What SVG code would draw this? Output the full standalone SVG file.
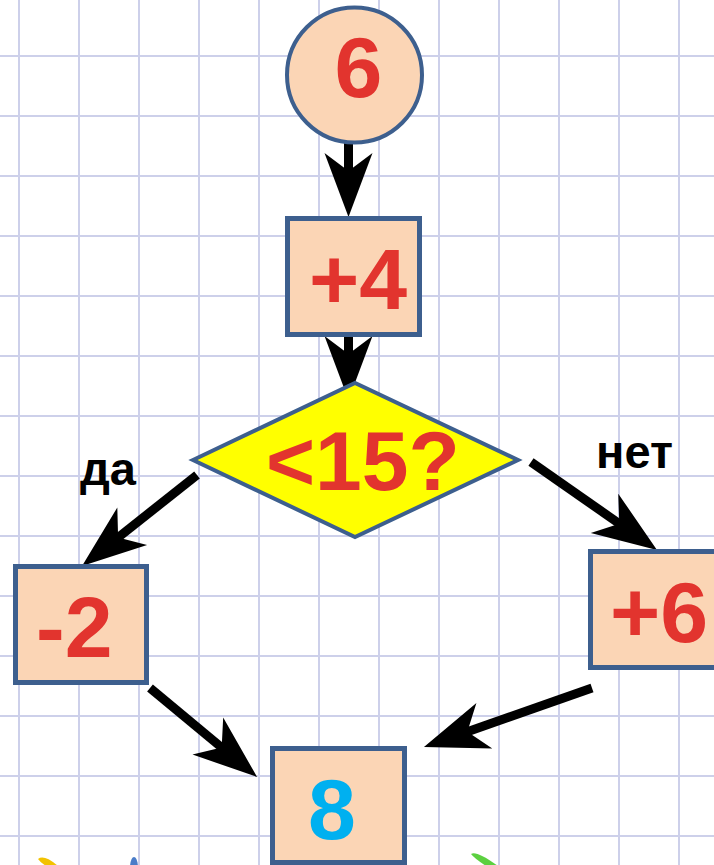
<svg xmlns="http://www.w3.org/2000/svg" width="714" height="865" viewBox="0 0 714 865">
<defs>
<style>
.grid line{stroke:#cdd0ea;stroke-width:2}
.box{fill:#fbd5b5;stroke:#3d5f8e;stroke-width:5}
.num{font-family:"Liberation Sans",Arial,sans-serif;font-weight:bold;font-size:86px;fill:#e2342e}
.lbl{font-family:"Liberation Sans",Arial,sans-serif;font-weight:bold;font-size:47px;fill:#000}
.conn line{stroke:#000;stroke-width:9;marker-end:url(#ah)}
</style>
<marker id="ah" markerUnits="userSpaceOnUse" viewBox="-30 -30 80 60" refX="0" refY="0" markerWidth="80" markerHeight="60" orient="auto">
<path d="M40,0 L-24,-24 L-6,0 L-24,24 Z" fill="#000"/>
</marker>
</defs>
<rect width="714" height="865" fill="#fff"/>
<g class="grid">
<line x1="19" y1="0" x2="19" y2="865"/><line x1="79" y1="0" x2="79" y2="865"/><line x1="139" y1="0" x2="139" y2="865"/><line x1="199" y1="0" x2="199" y2="865"/><line x1="259" y1="0" x2="259" y2="865"/><line x1="319" y1="0" x2="319" y2="865"/><line x1="379" y1="0" x2="379" y2="865"/><line x1="439" y1="0" x2="439" y2="865"/><line x1="499" y1="0" x2="499" y2="865"/><line x1="559" y1="0" x2="559" y2="865"/><line x1="619" y1="0" x2="619" y2="865"/><line x1="679" y1="0" x2="679" y2="865"/>
<line x1="0" y1="56" x2="714" y2="56"/><line x1="0" y1="116" x2="714" y2="116"/><line x1="0" y1="176" x2="714" y2="176"/><line x1="0" y1="236" x2="714" y2="236"/><line x1="0" y1="296" x2="714" y2="296"/><line x1="0" y1="356" x2="714" y2="356"/><line x1="0" y1="416" x2="714" y2="416"/><line x1="0" y1="476" x2="714" y2="476"/><line x1="0" y1="536" x2="714" y2="536"/><line x1="0" y1="596" x2="714" y2="596"/><line x1="0" y1="656" x2="714" y2="656"/><line x1="0" y1="716" x2="714" y2="716"/><line x1="0" y1="776" x2="714" y2="776"/><line x1="0" y1="836" x2="714" y2="836"/>
</g>
<g id="decor">
<path d="M38,859 Q44,854 58,866 L46,866 Q40,862 38,859 Z" fill="#f2c200"/>
<path d="M130,866 Q131,857 134,857 Q137,857 138,866 Z" fill="#4a7cc8"/>
<path d="M471,854 Q476,850 498,866 L486,866 Q474,858 471,854 Z" fill="#5cd040"/>
</g>
<g class="conn">
<line x1="348.5" y1="113" x2="348.5" y2="177"/>
<line x1="348.5" y1="337" x2="348.5" y2="360"/>
<line x1="197" y1="475" x2="113.4" y2="541.2"/>
<line x1="531" y1="462" x2="624.2" y2="527.1"/>
<line x1="150" y1="688" x2="226.3" y2="751.4"/>
<line x1="592" y1="688" x2="461.7" y2="733.7"/>
</g>
<g id="start">
<circle cx="354.5" cy="75" r="67.5" fill="#fbd5b5" stroke="#3d5f8e" stroke-width="4"/>
<text class="num" x="334.5" y="97">6</text>
</g>
<g id="plus4">
<rect class="box" x="287.5" y="218.5" width="132" height="116"/>
<text class="num" x="309" y="309">+4</text>
</g>
<g id="cond">
<polygon points="193,460 355,383 518,460 355,537" fill="#ffff00" stroke="#3d5f8e" stroke-width="4"/>
<text class="num" style="font-size:84px" x="266" y="490">&lt;15?</text>
</g>
<g id="minus2">
<rect class="box" x="15.5" y="566.5" width="131" height="116"/>
<text class="num" x="36" y="657">-2</text>
</g>
<g id="plus6">
<rect class="box" x="590.5" y="551.5" width="132" height="116"/>
<text class="num" x="610" y="642">+6</text>
</g>
<g id="result">
<rect class="box" x="272.5" y="748.5" width="132" height="114"/>
<text class="num" style="fill:#00b0f0" x="308" y="839">8</text>
</g>
<g id="labels">
<text class="lbl" x="80" y="485">да</text>
<text class="lbl" x="596" y="468">нет</text>
</g>
</svg>
